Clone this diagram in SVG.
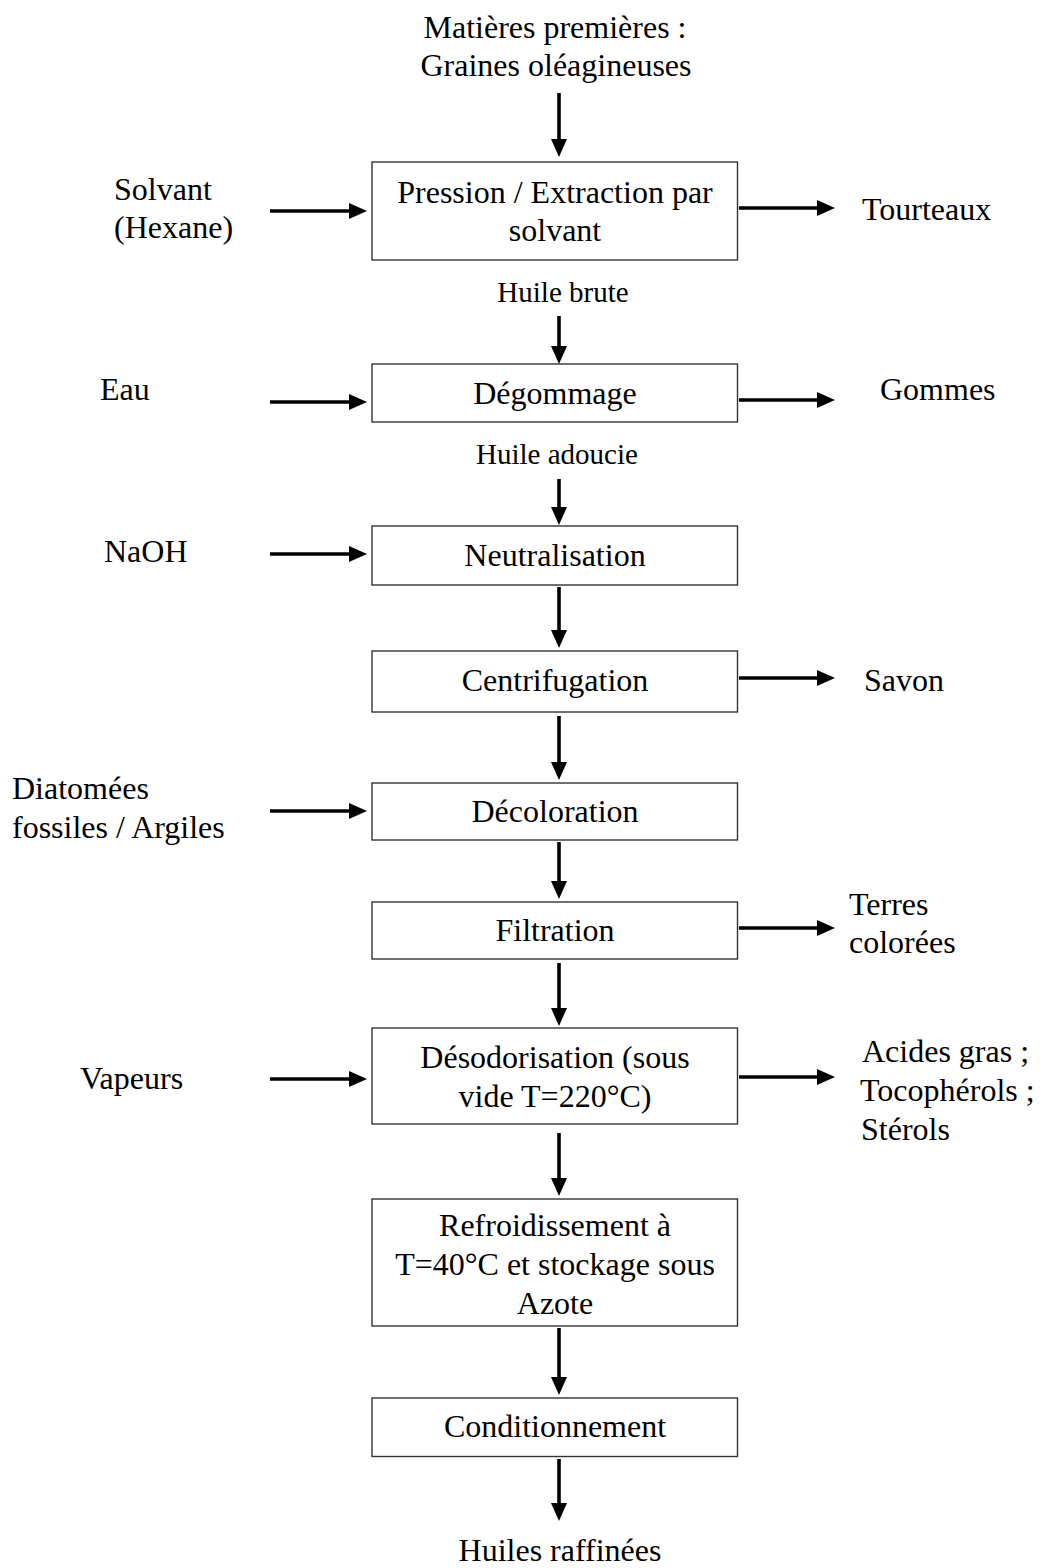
<svg xmlns="http://www.w3.org/2000/svg" width="1041" height="1568" viewBox="0 0 1041 1568">
<defs>
<marker id="ah" markerUnits="userSpaceOnUse" markerWidth="18" markerHeight="16" refX="2" refY="8" orient="auto">
<path d="M0,0 L18,8 L0,16 Z" fill="#000"/>
</marker>
<style>
text{font-family:"Liberation Serif","Times New Roman",serif;font-size:32px;fill:#000}
.c{text-anchor:middle}
.s{font-size:29px}
.box{fill:#fff;stroke:#333;stroke-width:1.4}
.arr{stroke:#000;stroke-width:3.6;fill:none;marker-end:url(#ah)}
</style>
</defs>
<rect width="1041" height="1568" fill="#fff"/>

<g id="raw">
<text class="c" x="555" y="38">Matières premières :</text>
<text class="c" x="556" y="76">Graines oléagineuses</text>
</g>

<g id="n1"><rect class="box" x="372" y="162" width="365.5" height="98"/>
<text class="c" x="555" y="203">Pression / Extraction par</text>
<text class="c" x="555" y="241">solvant</text></g>
<g id="solvant"><text x="114" y="200">Solvant</text><text x="114" y="238">(Hexane)</text></g>
<g id="tourteaux"><text x="862" y="220">Tourteaux</text></g>
<g id="huilebrute"><text class="c s" x="563" y="302">Huile brute</text></g>

<g id="n2"><rect class="box" x="372" y="364" width="365.5" height="58"/>
<text class="c" x="555" y="404">Dégommage</text></g>
<g id="eau"><text x="100" y="400">Eau</text></g>
<g id="gommes"><text x="880" y="400">Gommes</text></g>
<g id="huileadoucie"><text class="c s" x="557" y="464">Huile adoucie</text></g>

<g id="n3"><rect class="box" x="372" y="526" width="365.5" height="59"/>
<text class="c" x="555" y="566">Neutralisation</text></g>
<g id="naoh"><text x="104" y="562">NaOH</text></g>

<g id="n4"><rect class="box" x="372" y="651" width="365.5" height="61"/>
<text class="c" x="555" y="691">Centrifugation</text></g>
<g id="savon"><text x="864" y="691">Savon</text></g>

<g id="n5"><rect class="box" x="372" y="783" width="365.5" height="57"/>
<text class="c" x="555" y="822">Décoloration</text></g>
<g id="diatomees"><text x="12" y="799">Diatomées</text><text x="12" y="838">fossiles / Argiles</text></g>

<g id="n6"><rect class="box" x="372" y="902" width="365.5" height="57"/>
<text class="c" x="555" y="941">Filtration</text></g>
<g id="terres"><text x="849" y="915">Terres</text><text x="849" y="953">colorées</text></g>

<g id="n7"><rect class="box" x="372" y="1028" width="365.5" height="96"/>
<text class="c" x="555" y="1068">Désodorisation (sous</text>
<text class="c" x="555" y="1107">vide T=220°C)</text></g>
<g id="vapeurs"><text x="80" y="1089">Vapeurs</text></g>
<g id="acides"><text x="862" y="1062">Acides gras ;</text><text x="860" y="1101">Tocophérols ;</text><text x="861" y="1140">Stérols</text></g>

<g id="n8"><rect class="box" x="372" y="1199" width="365.5" height="127"/>
<text class="c" x="555" y="1236">Refroidissement à</text>
<text class="c" x="555" y="1275">T=40°C et stockage sous</text>
<text class="c" x="555" y="1314">Azote</text></g>

<g id="n9"><rect class="box" x="372" y="1398" width="365.5" height="58.5"/>
<text class="c" x="555" y="1437">Conditionnement</text></g>

<g id="huiles"><text class="c" x="560" y="1561">Huiles raffinées</text></g>

<g id="connectors">
<line class="arr" x1="559" y1="93" x2="559" y2="141"/>
<line class="arr" x1="559" y1="316" x2="559" y2="348"/>
<line class="arr" x1="559" y1="479" x2="559" y2="509"/>
<line class="arr" x1="559" y1="587" x2="559" y2="632"/>
<line class="arr" x1="559" y1="716" x2="559" y2="764"/>
<line class="arr" x1="559" y1="842" x2="559" y2="883"/>
<line class="arr" x1="559" y1="963" x2="559" y2="1010"/>
<line class="arr" x1="559" y1="1133" x2="559" y2="1180"/>
<line class="arr" x1="559" y1="1328" x2="559" y2="1379"/>
<line class="arr" x1="559" y1="1459" x2="559" y2="1505"/>

<line class="arr" x1="270" y1="211" x2="351" y2="211"/>
<line class="arr" x1="270" y1="402" x2="351" y2="402"/>
<line class="arr" x1="270" y1="554" x2="351" y2="554"/>
<line class="arr" x1="270" y1="811" x2="351" y2="811"/>
<line class="arr" x1="270" y1="1079" x2="351" y2="1079"/>

<line class="arr" x1="739" y1="208" x2="819" y2="208"/>
<line class="arr" x1="739" y1="400" x2="819" y2="400"/>
<line class="arr" x1="739" y1="678" x2="819" y2="678"/>
<line class="arr" x1="739" y1="928" x2="819" y2="928"/>
<line class="arr" x1="739" y1="1077" x2="819" y2="1077"/>
</g>
</svg>
